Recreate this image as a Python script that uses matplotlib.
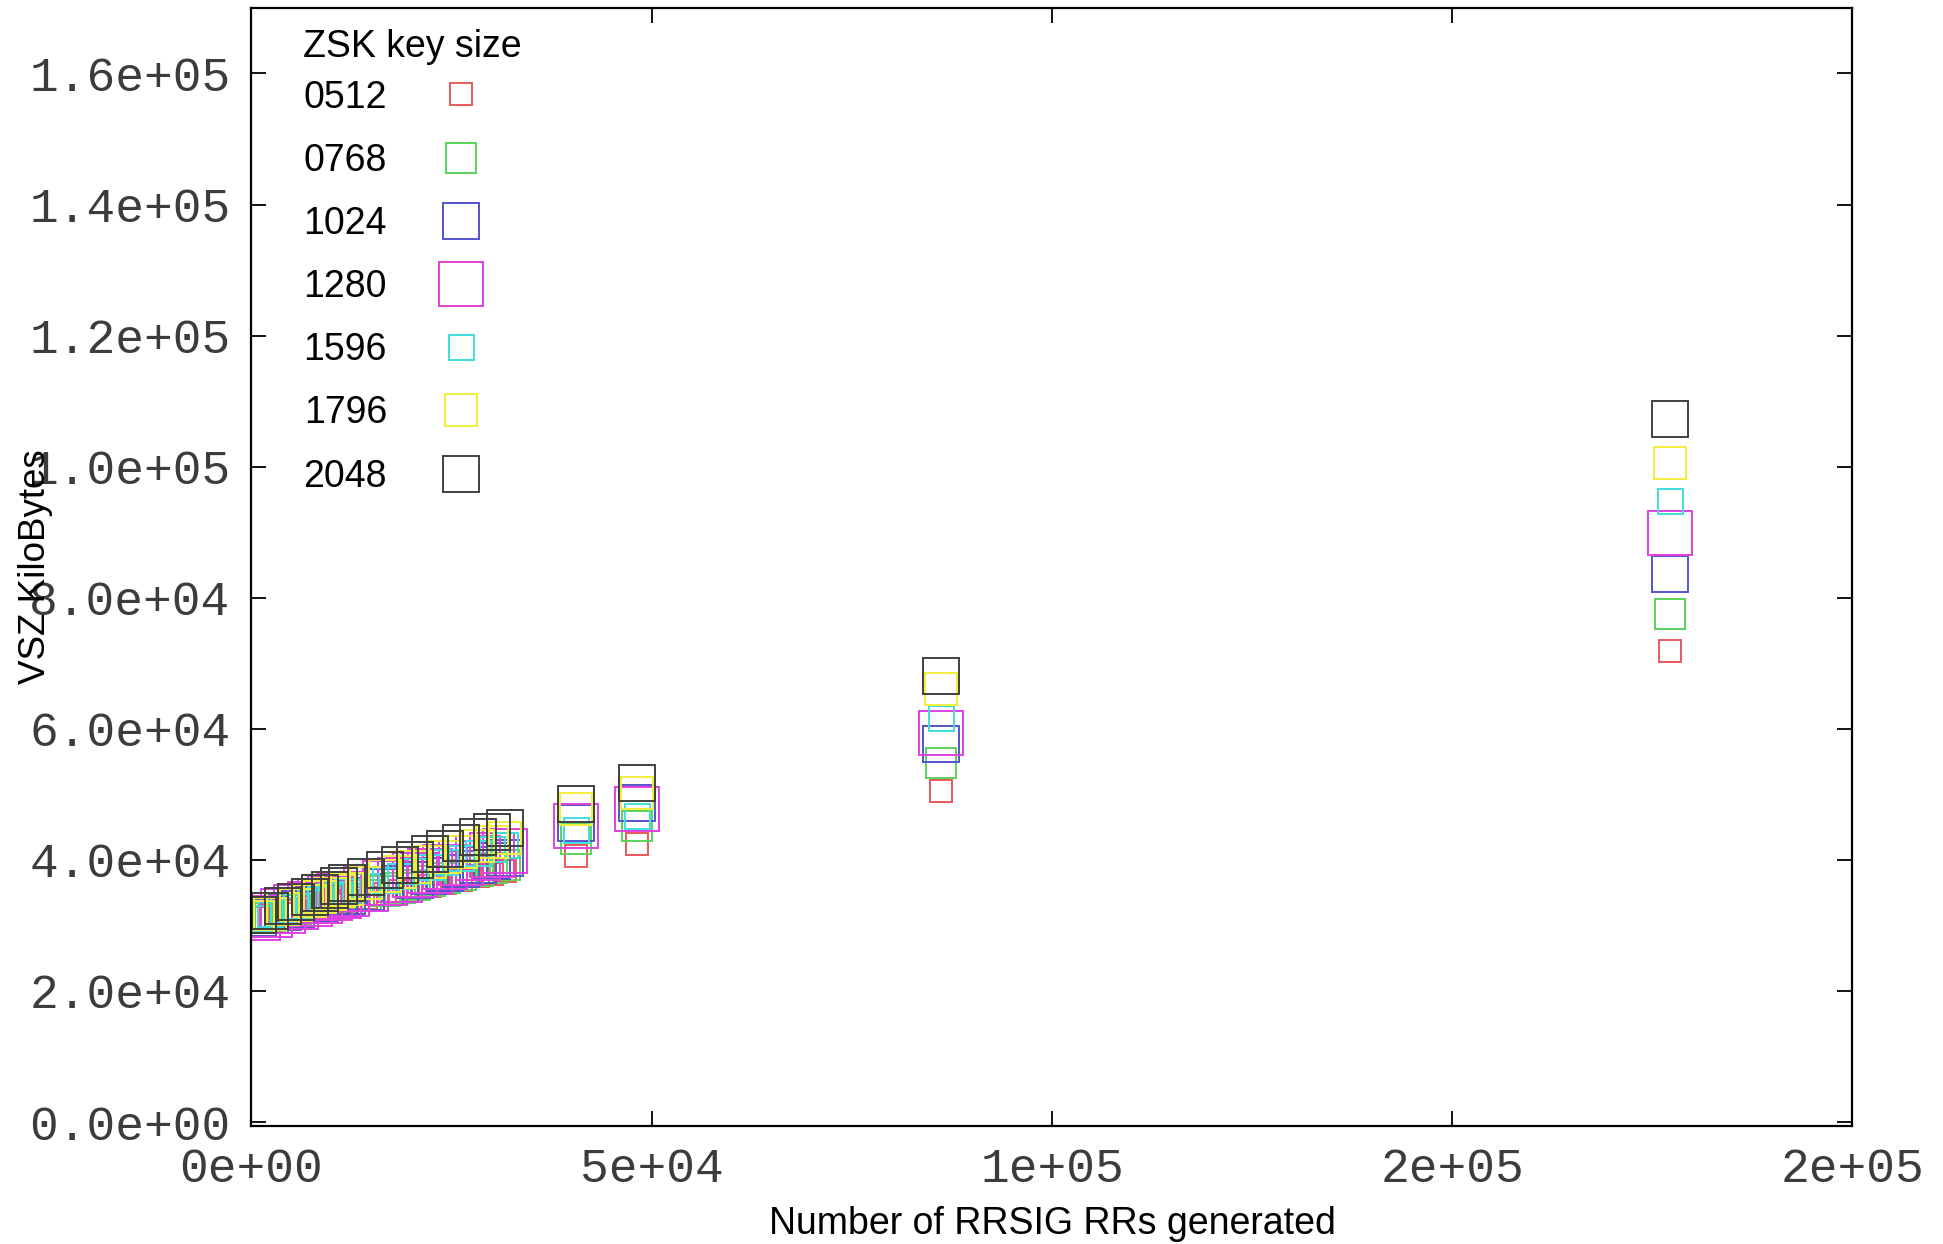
import matplotlib
matplotlib.use("Agg")
import matplotlib.pyplot as plt
from matplotlib.ticker import FormatStrFormatter, MultipleLocator

# number of RRSIG RRs generated (same for every key size)
rrsigs = [800, 2300, 3900, 5600, 7300, 8600, 9800, 11000, 12000, 14300, 16700,
          18500, 20400, 22300, 24200, 26200, 28300, 30000, 31700,
          40600, 48200, 86200, 177200]

# VSZ in KiloBytes per ZSK key size
vsz_0512 = [31090, 31430, 31800, 32200, 32590, 32900, 33170, 33450, 33680, 34220, 34770,
            35190, 35630, 36070, 36510, 36980, 37470, 37860, 38250,
            40580, 42360, 50500, 71860]
vsz_0768 = [31110, 31500, 31920, 32370, 32810, 33150, 33470, 33780, 34040, 34650, 35280,
            35750, 36240, 36740, 37240, 37760, 38310, 38760, 39210,
            43120, 45150, 54830, 77460]
vsz_1024 = [31140, 31580, 32050, 32560, 33060, 33450, 33800, 34160, 34450, 35130, 35840,
            36380, 36940, 37500, 38060, 38660, 39280, 39780, 40280,
            45670, 48720, 57620, 83560]
vsz_1280 = [31160, 31660, 32190, 32750, 33310, 33740, 34130, 34530, 34860, 35620, 36410,
            37000, 37630, 38260, 38890, 39550, 40240, 40800, 41360,
            45200, 47700, 59400, 89930]
vsz_1596 = [31190, 31730, 32300, 32920, 33530, 34000, 34430, 34860, 35220, 36050, 36910,
            37560, 38240, 38930, 39610, 40330, 41090, 41700, 42310,
            44600, 46680, 61700, 94750]
vsz_1796 = [31220, 31810, 32440, 33110, 33780, 34290, 34760, 35230, 35630, 36530, 37480,
            38190, 38940, 39690, 40430, 41220, 42050, 42720, 43390,
            47700, 50250, 66000, 100600]
vsz_2048 = [31550, 32200, 32890, 33620, 34360, 34920, 35440, 35960, 36400, 37390, 38430,
            39210, 40030, 40860, 41680, 42550, 43450, 44190, 44930,
            48470, 51780, 68040, 107300]

key_sizes = ["0512", "0768", "1024", "1280", "1596", "1796", "2048"]
series = [vsz_0512, vsz_0768, vsz_1024, vsz_1280, vsz_1596, vsz_1796, vsz_2048]
colores = ["#e85a5a", "#5ad25a", "#5555cc", "#e040e0", "#40dede", "#f2ee3a", "#404040"]
tamanos = [16.5, 21.5, 26.5, 31, 18, 23, 26.5]

plt.rcParams["font.family"] = ["Liberation Sans", "DejaVu Sans"]

fig = plt.figure(figsize=(19.43, 12.44), dpi=100)
ax = fig.add_axes([0.1294, 0.0949, 0.824, 0.8987])

for lbl, vals, col, ms in zip(key_sizes, series, colores, tamanos):
    ax.plot(rrsigs, vals, linestyle="none", marker="s", markersize=ms,
            markerfacecolor="none", markeredgecolor=col, markeredgewidth=1.4,
            label=lbl)

ax.set_xlim(0, 200000)
ax.set_ylim(-600, 170000)
ax.xaxis.set_major_locator(MultipleLocator(50000))
ax.yaxis.set_major_locator(MultipleLocator(20000))
ax.xaxis.set_major_formatter(FormatStrFormatter("%.0e"))
ax.yaxis.set_major_formatter(FormatStrFormatter("%.1e"))

ax.tick_params(axis="both", direction="in", length=11, width=1.3,
               top=True, right=True, pad=15)
for t in ax.get_xticklabels() + ax.get_yticklabels():
    t.set_fontfamily(["Liberation Mono", "DejaVu Sans Mono"])
    t.set_fontsize(34.5)
    t.set_color("#3c3c3c")
for s in ax.spines.values():
    s.set_linewidth(1.6)

ax.set_xlabel("Number of RRSIG RRs generated", fontsize=27)
ax.set_ylabel("VSZ KiloBytes", fontsize=26.5)
ax.xaxis.set_label_coords(0.5, -0.072)
ax.yaxis.set_label_coords(-0.124, 0.5)

# legend title as its own text, entries below it
ax.text(0.0325, 0.965, "ZSK key size", transform=ax.transAxes,
        fontsize=27, ha="left", va="center")
leg = ax.legend(loc="upper left", bbox_to_anchor=(0.0325, 0.936),
                frameon=False, markerfirst=False, fontsize=27,
                handlelength=2.37, handletextpad=0.8, labelspacing=0.725,
                borderpad=0, borderaxespad=0)

plt.savefig("out.png", dpi=100)
